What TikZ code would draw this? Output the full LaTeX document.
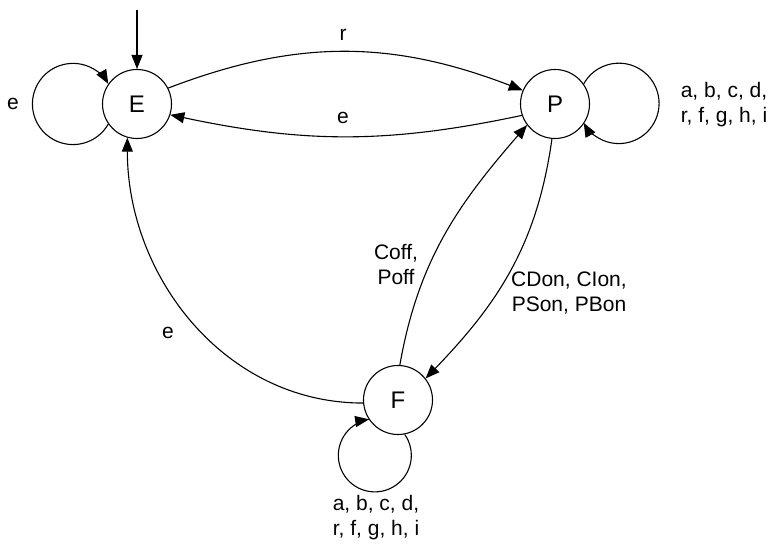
\documentclass[tikz,border=0pt]{standalone}
\usepackage{fontspec}
\setmainfont{Liberation Sans}
\usetikzlibrary{arrows.meta}

\begin{document}
\begin{tikzpicture}[x=1pt,y=1pt,
        state/.style={draw, circle, line width=1.1pt, minimum size=69pt, inner sep=0pt, font=\fontsize{24}{28}\selectfont},
        trans/.style={-{Triangle[length=14pt,width=11pt]}, line width=1.1pt},
        lbl/.style={font=\fontsize{21}{25}\selectfont, align=center, inner sep=1pt}]
        \useasboundingbox (0,0) rectangle (773,545);

        % The states
        \node[state] (E) at (137,441) {E};
        \node[state] (P) at (555,441) {P};
        \node[state] (F) at (398,145) {F};

        % Start arrow into E
        \coordinate (init) at (137,535);
        \draw[trans] (init) -- (E);

        % Transitions between the states
        \draw[trans] (E.27) to[out=21,in=159] (P.157);
        \draw[trans] (P.199) to[out=192,in=348] (E.342);
        \draw[trans] (P.265) to[out=262,in=46] (F.38);
        \draw[trans] (F.87) to[out=80,in=229] (P.217);
        \draw[trans] (F.185) to[out=180,in=270] (E.254);

        % Self loops
        \draw[trans] (E.215) arc[start angle=330.3, end angle=29.7, radius=40.6];
        \draw[trans] (P.35) arc[start angle=151, end angle=-151, radius=40.2];
        \draw[trans] (F.281) arc[start angle=395.1, end angle=98.9, radius=36.5];

        % Transition labels
        \node[lbl] (eloop) at (13,441) {e};
        \node[lbl] (rlbl) at (343,510) {r};
        \node[lbl] (elbl) at (343,427) {e};
        \node[lbl] (ploop) at (724,440) {a, b, c, d,\\ r, f, g, h, i};
        \node[lbl] (floop) at (376,27) {a, b, c, d,\\ r, f, g, h, i};
        \node[lbl] (offlbl) at (396,280) {Coff,\\ Poff};
        \node[lbl] (onlbl) at (569,252) {CDon, CIon,\\ PSon, PBon};
        \node[lbl] (felbl) at (168,212) {e};
    \end{tikzpicture}
\end{document}
